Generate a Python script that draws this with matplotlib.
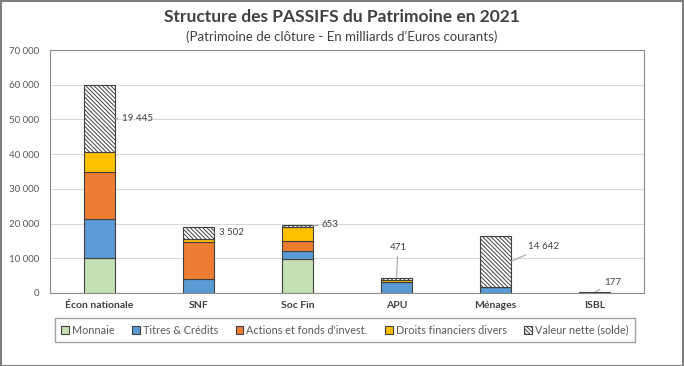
import matplotlib
matplotlib.use("Agg")
import matplotlib.pyplot as plt
import numpy as np
from matplotlib.patches import Rectangle
from matplotlib.ticker import FuncFormatter

plt.rcParams['font.family'] = ['Lato', 'DejaVu Sans']
plt.rcParams['hatch.linewidth'] = 0.7

# data (milliards d'euros)
categories = ["Écon nationale", "SNF", "Soc Fin", "APU", "Ménages", "ISBL"]
monnaie = [10000, 0, 9800, 0, 0, 0]
titres = [11200, 4000, 2300, 3200, 1700, 60]
actions = [13600, 10700, 3000, 100, 100, 40]
droits = [5700, 900, 3950, 560, 30, 20]
valeur_nette = [19445, 3502, 653, 471, 14642, 177]

series_names = ["Monnaie", "Titres & Crédits", "Actions et fonds d'invest.",
                "Droits financiers divers"]
colors = ["#C5E0B4", "#5B9BD5", "#ED7D31", "#FFC000"]

fig = plt.figure(figsize=(6.84, 3.66), dpi=100)
ax = fig.add_axes([50/684, 1-293/366, 594/684, 243/366])

x = np.arange(len(categories))
w = 0.32
bottom = np.zeros(len(categories))
for vals, col, name in zip([monnaie, titres, actions, droits], colors, series_names):
    ax.bar(x, vals, w, bottom=bottom, color=col, edgecolor="#404040",
           linewidth=0.8, label=name, zorder=3)
    bottom += np.array(vals)
ax.bar(x, valeur_nette, w, bottom=bottom, color="white", edgecolor="#404040",
       hatch="\\" * 8, linewidth=0.8, label="Valeur nette (solde)", zorder=3)

# labels for net value with leader lines
mids = bottom + np.array(valeur_nette) / 2
tops = bottom + np.array(valeur_nette)
label_pos = [(0.227, 50300, 'left'), (1.207, 17340, 'left'), (2.247, 19650, 'left'),
             (3.015, 13000, 'center'), (4.33, 13290, 'left'), (5.096, 2890, 'left')]
for i, (tx, ty, ha) in enumerate(label_pos):
    if i == 3:
        xy = (i, tops[i])
    elif i == 5:
        xy = (i + 0.01, tops[i] + 150)
    elif i == 2:
        xy = (i + w / 2, tops[i] - 300)
    else:
        xy = (i + w / 2, mids[i])
    txt = f"{valeur_nette[i]:,}".replace(",", " ")
    ax.annotate(txt, xy=xy, xytext=(tx, ty), ha=ha, va='center', fontsize=7,
                color="#404040",
                arrowprops=dict(arrowstyle='-', color="#A6A6A6", lw=0.8,
                                shrinkA=1, shrinkB=0))

ax.set_xlim(-0.5, len(categories) - 0.5)
ax.set_ylim(0, 70000)
ax.set_yticks(np.arange(0, 70001, 10000))
ax.yaxis.set_major_formatter(FuncFormatter(lambda v, p: f"{int(v):,}".replace(",", " ")))
ax.set_xticks(x)
ax.set_xticklabels(categories, fontweight='bold', fontsize=7.5, color="#404040")
ax.tick_params(axis='y', labelsize=7, colors="#595959", length=0, pad=8)
ax.tick_params(axis='x', length=0, pad=6)
ax.grid(axis='y', color="#D9D9D9", linewidth=0.8, zorder=0)
for s in ax.spines.values():
    s.set_color("#8C8C8C")
    s.set_linewidth(0.8)

fig.text(0.5, 1 - 17/366, "Structure des PASSIFS du Patrimoine en 2021", ha='center',
         va='center', fontsize=12.5, fontweight='bold', color="#404040")
fig.text(0.5, 1 - 37/366, "(Patrimoine de clôture - En milliards d'Euros courants)",
         ha='center', va='center', fontsize=9.5, color="#404040")

handles, labels = ax.get_legend_handles_labels()
leg = fig.legend(handles, labels, loc='center', bbox_to_anchor=(345/684, 1 - 330/366),
                 ncol=5, fontsize=7.8, frameon=True, fancybox=False, edgecolor="#8C8C8C",
                 handlelength=0.7, handleheight=0.7, handletextpad=0.3,
                 columnspacing=1.6, labelcolor="#595959", borderpad=0.6,
                 borderaxespad=0)
leg.get_frame().set_linewidth(1.0)

fig.patches.append(Rectangle((0.001, 0.001), 0.997, 0.997, transform=fig.transFigure,
                             fill=False, edgecolor="#7F7F7F", linewidth=1.5))

fig.savefig("out.png", dpi=100)
